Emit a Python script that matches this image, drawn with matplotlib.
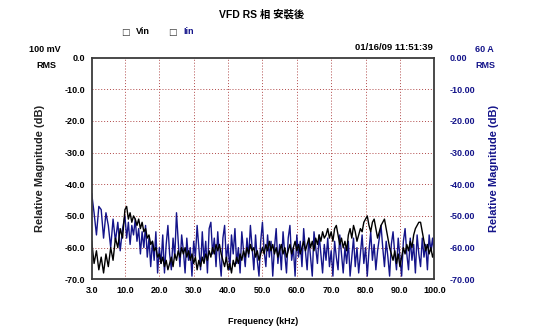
import numpy as np
import matplotlib
matplotlib.use('Agg')
import matplotlib.pyplot as plt

plt.rcParams['font.family'] = ['Liberation Sans', 'Noto Sans CJK TC', 'DejaVu Sans']
plt.rcParams['font.weight'] = 'bold'

# eje de frecuencia (kHz), paso de 0.5
frecuencia = np.arange(3.0, 100.01, 0.5)

# Iin (azul)
iin = [-43, -49, -56, -47, -48, -57, -49, -53, -60, -51,
       -58, -52, -61, -54, -50, -57, -52, -59, -53, -56,
       -51, -58, -54, -62, -55, -60, -53, -63, -57, -66,
       -58, -64, -55, -68, -60, -65, -56, -68, -59, -53,
       -62, -67, -57, -63, -49, -58, -66, -56, -61, -68,
       -57, -64, -60, -69, -58, -63, -53, -60, -67, -55,
       -64, -58, -68, -54, -52, -62, -57, -66, -55, -63,
       -69, -57, -53, -64, -59, -67, -56, -62, -54, -65,
       -60, -68, -55, -61, -66, -57, -63, -53, -60, -67,
       -56, -64, -69, -58, -52, -61, -66, -56, -63, -58,
       -69, -60, -54, -65, -59, -67, -55, -62, -68, -57,
       -53, -64, -60, -69, -56, -63, -58, -66, -54, -61,
       -67, -57, -63, -69, -55, -60, -65, -56, -62, -68,
       -59, -64, -57, -66, -61, -69, -58, -63, -67, -56,
       -62, -68, -60, -65, -58, -69, -63, -57, -66, -60,
       -68, -62, -56, -65, -60, -69, -61, -55, -64, -59,
       -67, -61, -57, -53, -60, -66, -58, -63, -69, -59,
       -55, -62, -67, -57, -63, -69, -58, -54, -62, -67,
       -57, -64, -59, -68, -56, -62, -66, -57, -63, -59,
       -67, -56, -61, -57, -63]

# Vin (negro)
vin = [-58, -65, -61, -67, -63, -68, -62, -66, -60, -64,
       -57, -60, -54, -57, -48, -47, -51, -49, -52, -50,
       -51, -53, -51, -54, -52, -55, -54, -57, -56, -59,
       -58, -61, -60, -63, -62, -65, -63, -66, -64, -67,
       -65, -63, -66, -62, -64, -61, -63, -60, -62, -60,
       -63, -61, -64, -62, -65, -63, -67, -64, -66, -63,
       -65, -62, -64, -61, -63, -60, -62, -59, -61, -59,
       -62, -64, -66, -63, -67, -65, -68, -64, -66, -63,
       -65, -62, -64, -61, -63, -60, -62, -59, -61, -60,
       -63, -61, -64, -62, -60, -62, -59, -61, -58, -61,
       -59, -62, -60, -63, -61, -59, -62, -60, -63, -61,
       -59, -62, -60, -58, -61, -59, -62, -60, -58, -61,
       -59, -57, -60, -58, -61, -57, -59, -56, -58, -55,
       -57, -56, -54, -57, -55, -58, -54, -53, -56, -59,
       -57, -60, -58, -61, -56, -54, -57, -53, -55, -58,
       -56, -54, -55, -52, -51, -50, -53, -55, -52, -51,
       -54, -57, -55, -53, -52, -51, -54, -57, -60, -62,
       -64, -61, -65, -62, -66, -63, -60, -62, -59, -61,
       -58, -60, -56, -54, -53, -52, -52, -55, -58, -61,
       -59, -62, -60, -63, -61]

ticks_x = [3, 10, 20, 30, 40, 50, 60, 70, 80, 90, 100]
ticks_y = [0, -10, -20, -30, -40, -50, -60, -70]

azul = '#14148a'
rojo_grilla = '#b04848'

# la escala de frecuencia del analizador: tramo 3-10 casi igual a una decada
def ida(x):
    return np.interp(x, [3, 10, 100], [0, 0.97, 10])

def vuelta(u):
    return np.interp(u, [0, 0.97, 10], [3, 10, 100])

W, H = 536, 336
fig = plt.figure(figsize=(W / 100, H / 100), dpi=100)
ax = fig.add_axes([91.7 / W, 1 - 279.3 / H, (434.3 - 91.7) / W, (279.3 - 57.5) / H])
ax.set_xscale('function', functions=(ida, vuelta))

ax.plot(frecuencia, iin, color=azul, lw=1.0)
ax.plot(frecuencia, vin, color='black', lw=1.0)

ax.set_xlim(3, 100)
ax.set_ylim(-70, 0)
ax.set_xticks(ticks_x)
ax.set_xticklabels([f'{t:.1f}' for t in ticks_x])
ax.set_yticks(ticks_y)
ax.set_yticklabels([f'{t:.1f}' for t in ticks_y])
ax.tick_params(length=0, labelsize=6.5, pad=5)
for t in ax.get_xticklabels() + ax.get_yticklabels():
    t.set_fontweight('bold')

for x in ticks_x[1:-1]:
    ax.axvline(x, color=rojo_grilla, lw=0.7, ls=(0, (1, 2)), zorder=0)
for y in ticks_y[1:-1]:
    ax.axhline(y, color=rojo_grilla, lw=0.7, ls=(0, (1, 2)), zorder=0)

for s in ax.spines.values():
    s.set_color('#3a3a3a')
    s.set_linewidth(1.3)

ax.set_xlabel('Frequency (kHz)', fontsize=6.5, fontweight='bold', labelpad=16)
ax.set_ylabel('Relative Magnitude (dB)', fontsize=8, fontweight='bold', labelpad=14,
              color='#222222')

ax2 = ax.twinx()
ax2.set_ylim(-70, 0)
ax2.set_yticks(ticks_y)
ax2.set_yticklabels([f'{t:.2f}' for t in ticks_y], color=azul, fontweight='bold')
ax2.tick_params(length=0, labelsize=6.5, pad=11)
for s in ax2.spines.values():
    s.set_visible(False)
ax2.set_ylabel('Relative Magnitude (dB)', fontsize=8, fontweight='bold', color=azul,
               rotation=90, labelpad=10)

def texto(x, y, s, **kw):
    fig.text(x / W, 1 - y / H, s, va='center', fontweight='bold', **kw)

texto(262, 14, 'VFD RS 相 安裝後', ha='center', fontsize=7.5)
texto(125, 32, '\u25a1', ha='center', fontsize=6.5, family='DejaVu Sans', color='#333333')
texto(136, 32, 'Vin', ha='left', fontsize=6.5)
texto(172, 32, '\u25a1', ha='center', fontsize=6.5, family='DejaVu Sans', color='#333333')
texto(183, 32, 'Iin', ha='left', fontsize=6.5, color=azul)
texto(45, 49, '100 mV', ha='center', fontsize=6.5)
texto(46, 66, 'RMS', ha='center', fontsize=6.5)
texto(433, 47, '01/16/09 11:51:39', ha='right', fontsize=6.8)
texto(484, 49, '60 A', ha='center', fontsize=6.5, color=azul)
texto(485, 66, 'RMS', ha='center', fontsize=6.5, color=azul)

fig.savefig('out.png', dpi=100, facecolor='white')
